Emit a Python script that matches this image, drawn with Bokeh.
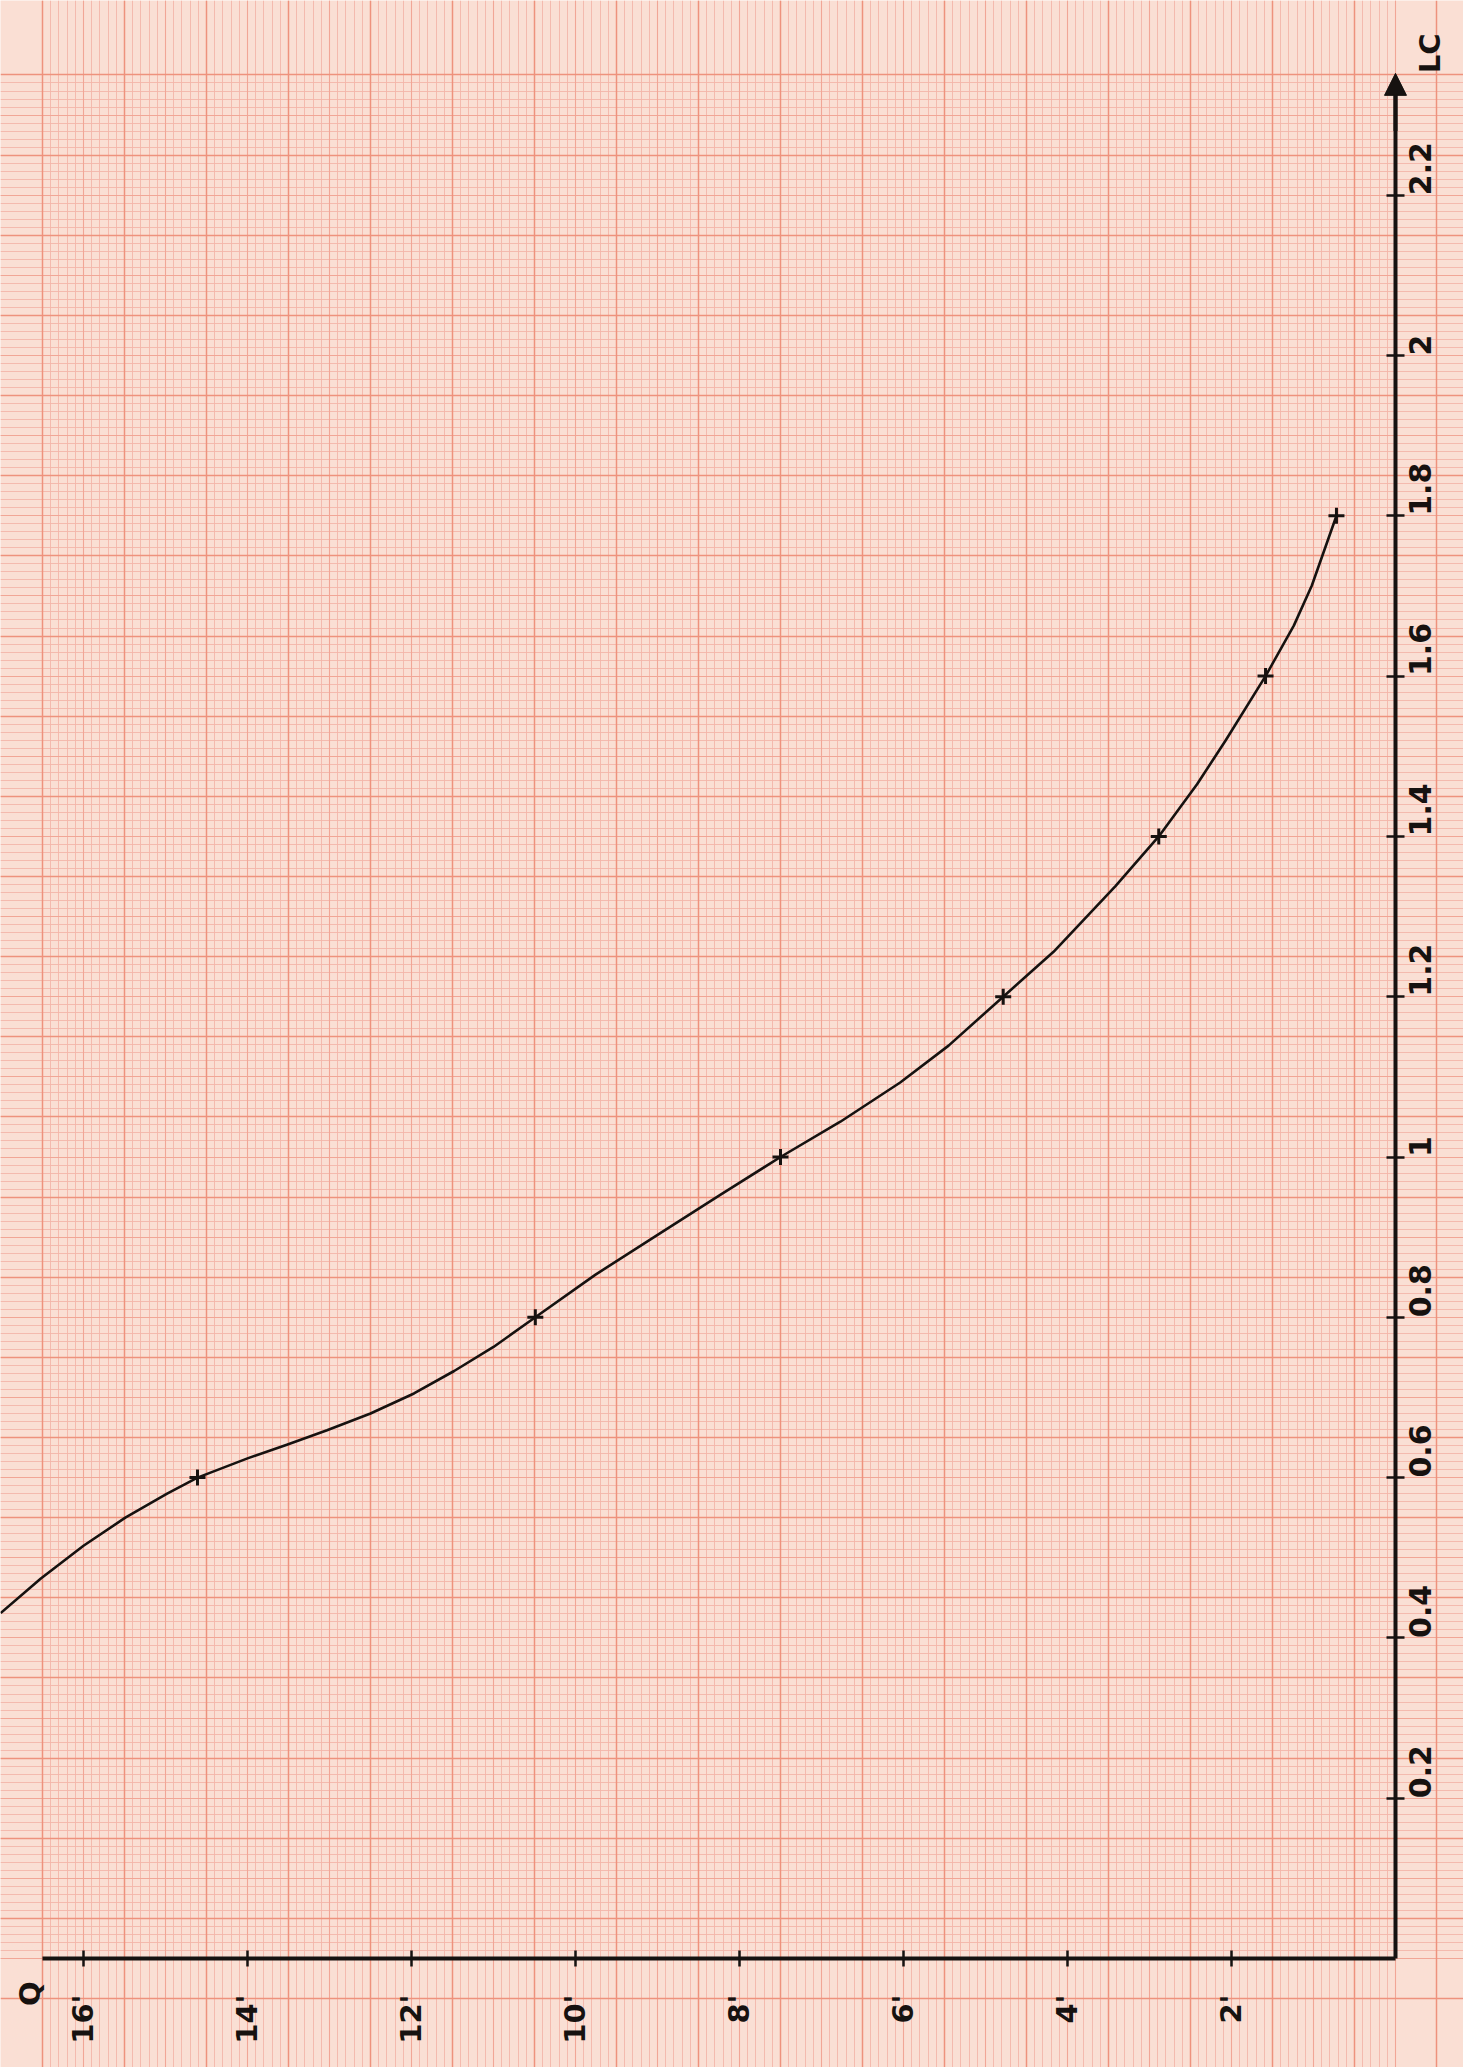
from math import pi
from bokeh.plotting import figure
from bokeh.models import (Range1d, LinearAxis, FixedTicker, Grid, SingleIntervalTicker,
                          Label, Arrow, NormalHead)
from bokeh.embed import file_html
from bokeh.resources import INLINE

# ---- data ----
# measured points (crosses): Q (feet) vs LC
point_q = [0.72, 1.585, 2.887, 4.784, 7.5, 10.49, 14.61]
point_lc = [1.8, 1.6, 1.4, 1.2, 1.0, 0.8, 0.6]

# hand-drawn curve, samples
curve_q = [0.72, 1.02, 1.24, 1.585, 2.07, 2.42, 2.887, 3.415, 4.17, 4.784, 5.45, 6.04,
           6.77, 7.5, 8.23, 8.98, 9.76, 10.49, 11.0, 11.48, 11.97, 12.5, 13.03,
           13.52, 14.0, 14.61, 14.98, 15.49, 16.0, 16.52, 17.01]
curve_lc = [1.80, 1.713, 1.663, 1.60, 1.52, 1.465, 1.40, 1.338, 1.256, 1.20, 1.139, 1.093,
            1.044, 1.0, 0.953, 0.904, 0.853, 0.80, 0.763, 0.733, 0.705, 0.680, 0.659,
            0.641, 0.624, 0.60, 0.580, 0.550, 0.515, 0.474, 0.431]

q_ticks = [2, 4, 6, 8, 10, 12, 14, 16]
q_labels = ["2'", "4'", "6'", "8'", "10'", "12'", "14'", "16'"]
lc_ticks = [0.2, 0.4, 0.6, 0.8, 1.0, 1.2, 1.4, 1.6, 1.8, 2.0, 2.2]
lc_labels = ["0.2", "0.4", "0.6", "0.8", "1", "1.2", "1.4", "1.6", "1.8", "2", "2.2"]

# ---- figure ----
W, H = 1463, 2067
p = figure(width=W, height=H, output_backend="svg", toolbar_location=None,
           x_range=Range1d(17.0122, -0.8293), y_range=Range1d(-0.13599, 2.44292),
           x_axis_location=None, y_axis_location=None, min_border=0,
           background_fill_color="#fadfd4", border_fill_color="#fadfd4",
           outline_line_color=None)
p.grid.visible = False

INK = "#161210"
FINE = "#f3b6a9"
MED = "#f1a696"
BOLD = "#ee927d"

# graph-paper grid: 1 mm fine, 5 mm medium, 10 mm bold
fine_x = Grid(dimension=0, ticker=SingleIntervalTicker(interval=0.1, num_minor_ticks=0),
              grid_line_color=FINE, grid_line_width=0.9)
fine_y = Grid(dimension=1, ticker=SingleIntervalTicker(interval=0.01, num_minor_ticks=0),
              grid_line_color=FINE, grid_line_width=0.9)
med_x = Grid(dimension=0, ticker=SingleIntervalTicker(interval=1.0, num_minor_ticks=0),
             grid_line_color=MED, grid_line_width=1.1)
med_y = Grid(dimension=1, ticker=SingleIntervalTicker(interval=0.1, num_minor_ticks=0),
             grid_line_color=MED, grid_line_width=1.1)
bold_x = Grid(dimension=0, ticker=FixedTicker(ticks=[k + 0.5 for k in range(-2, 18)]),
              grid_line_color=BOLD, grid_line_width=1.5)
bold_y = Grid(dimension=1, ticker=FixedTicker(ticks=[round(0.05 + 0.1 * k, 3) for k in range(-2, 25)]),
              grid_line_color=BOLD, grid_line_width=1.5)
for g in (fine_x, fine_y, med_x, med_y, bold_x, bold_y):
    p.add_layout(g)

# ---- axes drawn at the origin ----
FONT = "DejaVu Sans"
q_axis = LinearAxis(fixed_location=0, bounds=(0, 16.5),
                    ticker=FixedTicker(ticks=q_ticks),
                    major_label_overrides={t: s for t, s in zip(q_ticks, q_labels)},
                    major_label_orientation=pi / 2,
                    axis_line_color=INK, axis_line_width=4,
                    major_tick_line_color=INK, major_tick_line_width=2.5,
                    major_tick_in=8, major_tick_out=8,
                    minor_tick_line_color=None,
                    major_label_standoff=28,
                    major_label_text_font=FONT, major_label_text_font_style="bold",
                    major_label_text_font_size="29px", major_label_text_color=INK)
p.add_layout(q_axis, "below")

lc_axis = LinearAxis(fixed_location=0, bounds=(0, 2.34),
                     ticker=FixedTicker(ticks=lc_ticks),
                     major_label_overrides={t: s for t, s in zip(lc_ticks, lc_labels)},
                     major_label_orientation=pi / 2,
                     axis_line_color=INK, axis_line_width=4,
                     major_tick_line_color=INK, major_tick_line_width=2.5,
                     major_tick_in=9, major_tick_out=9,
                     minor_tick_line_color=None,
                     major_label_standoff=16,
                     major_label_text_font=FONT, major_label_text_font_style="bold",
                     major_label_text_font_size="30px", major_label_text_color=INK)
p.add_layout(lc_axis, "right")

p.add_layout(Arrow(end=NormalHead(size=22, fill_color=INK, line_color=INK, line_width=1),
                   x_start=0, y_start=2.28, x_end=0, y_end=2.352,
                   line_color=INK, line_width=4))

p.add_layout(Label(x=16.65, y=-0.044, text="Q", angle=pi / 2,
                   text_align="center", text_baseline="middle",
                   text_font=FONT, text_font_style="bold", text_font_size="29px",
                   text_color=INK))
p.add_layout(Label(x=-0.415, y=2.377, text="LC", angle=pi / 2,
                   text_align="center", text_baseline="middle",
                   text_font=FONT, text_font_style="bold", text_font_size="29px",
                   text_color=INK))

# ---- curve and points ----
p.line(curve_q, curve_lc, line_color=INK, line_width=2.6, line_join="round")
p.scatter(point_q, point_lc, marker="cross", size=16, line_color=INK, line_width=3)

open("out.html", "w").write(file_html(p, INLINE))
